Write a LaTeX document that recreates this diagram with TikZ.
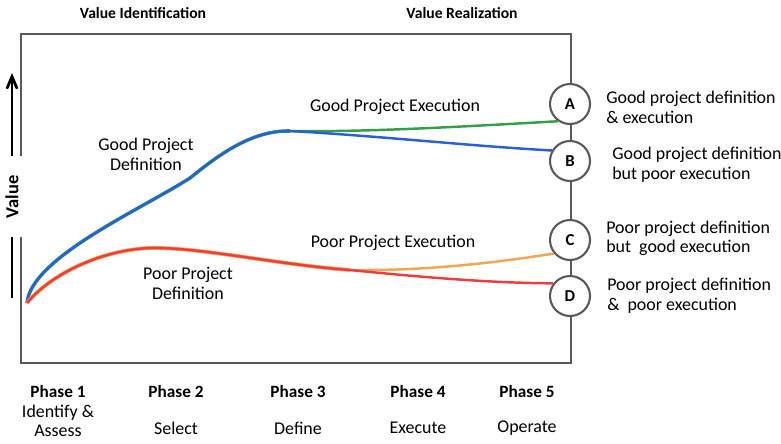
\documentclass[tikz,border=0pt]{standalone}
\usepackage{fontspec}
\setmainfont{Carlito}
\usepackage{tikz}
\usetikzlibrary{calc}
\usetikzlibrary{arrows,shapes}
\usetikzlibrary{positioning}
\definecolor{lineblue}{RGB}{40,95,220}
\definecolor{linegreen}{RGB}{50,160,70}
\definecolor{lineorange}{RGB}{245,165,80}
\definecolor{linered}{RGB}{240,60,60}
\definecolor{framegray}{RGB}{90,90,90}
\tikzstyle{valuearrow}=[->,>=angle 45,line width=1.6pt]
\tikzstyle{head}=[font=\bfseries\fontsize{8.9}{10}\selectfont]
\tikzstyle{phase}=[font=\bfseries\fontsize{9.8}{11}\selectfont]
\tikzstyle{txt}=[font=\fontsize{10.2}{11.5}\selectfont,align=center]
\tikzstyle{outcome}=[font=\fontsize{10.2}{11.3}\selectfont,align=left]
\tikzstyle{state}=[circle,draw=framegray,fill=white,line width=1.2pt,minimum
                size=0.8cm,inner sep=0,font=\bfseries\fontsize{9.5}{10}\selectfont]

\begin{document}
\begin{tikzpicture}[x=0.02cm,y=-0.02cm]
\useasboundingbox (0,0) rectangle (781,443);
\draw [framegray, line width=1pt] (21,34) rectangle (571,363);
\node [head] at (143,13) {Value Identification};
\node [head] at (462,13) {Value Realization};
\coordinate (VB) at (12,298);
\coordinate (VT) at (12,73);
\draw [valuearrow] (VB) -- node[pos=0.45, fill=white, rotate=90, inner xsep=11pt, font=\bfseries\fontsize{10.5}{11}\selectfont] {Value} (VT);
\node [state] (A) at (570,104) {A};
\node [state] (B) at (570,161) {B};
\node [state] (C) at (570,240) {C};
\node [state] (D) at (570,296) {D};
\node [outcome, right=0.18cm of A, yshift=-2pt] (labA) {Good project definition\\\& execution};
\node [outcome, right=0.3cm of B, yshift=-2pt] (labB) {Good project definition\\but poor execution};
\node [outcome, right=0.18cm of C, yshift=1pt] (labC) {Poor project definition\\but\ \ good execution};
\node [outcome, right=0.2cm of D] (labD) {Poor project definition\\\&\ \ poor execution};
% curves
\coordinate (S) at (27,303);
\coordinate (M) at (190,178);
\coordinate (P) at (290,131);
\coordinate (Q) at (150,248);
\coordinate (R) at (350,270);
\draw [linegreen, line width=2pt] (S) .. controls (31,258) and (140,210) .. (M) .. controls (215,158) and (250,130) .. (P);
\draw [lineblue, line width=1.4pt] (S) .. controls (31,258) and (140,210) .. (M) .. controls (215,158) and (250,130) .. (P);
\draw [linegreen, line width=1.4pt] (P) .. controls (360,132) and (440,128) .. (A.235);
\draw [lineblue, line width=1.4pt] (P) .. controls (380,136) and (470,146) .. (B.150);
\draw [lineorange, line width=2.2pt] (S) .. controls (50,275) and (100,250) .. (Q) .. controls (200,247) and (280,265) .. (R);
\draw [linered, line width=1.4pt] (S) .. controls (50,275) and (100,250) .. (Q) .. controls (200,247) and (280,265) .. (R);
\draw [lineorange, line width=1.4pt] (R) .. controls (430,271) and (500,262) .. (C.220);
\draw [linered, line width=1.4pt] (R) .. controls (420,277) and (490,283) .. (D.143);
\node [txt] at (395,107) {Good Project Execution};
\node [txt] at (146,154) {Good Project\\Definition};
\node [txt] at (393,243) {Poor Project Execution};
\node [txt] at (188,283) {Poor Project\\Definition};
% phases
\node [phase] at (58,392) {Phase 1};
\node [txt, font=\fontsize{10.2}{10.5}\selectfont] at (58,421) {Identify \&\\Assess};
\node [phase] at (176,392) {Phase 2};
\node [txt] at (176,428) {Select};
\node [phase] at (298,392) {Phase 3};
\node [txt] at (298,428) {Define};
\node [phase] at (418,392) {Phase 4};
\node [txt] at (418,428) {Execute};
\node [phase] at (527,392) {Phase 5};
\node [txt] at (527,428) {Operate};
\end{tikzpicture}
\end{document}
